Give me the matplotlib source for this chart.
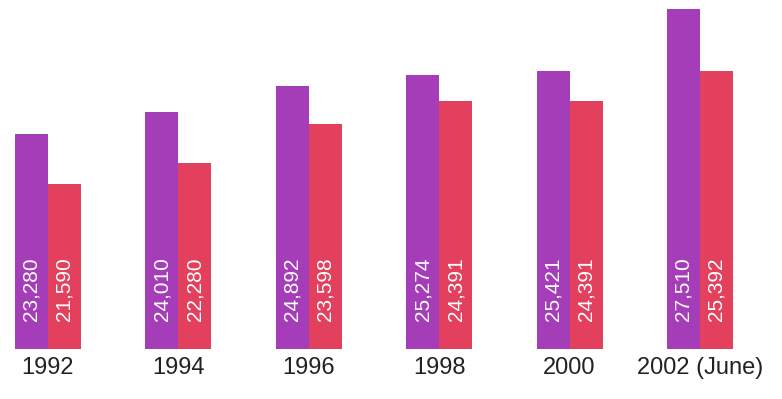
import matplotlib
matplotlib.use("Agg")
import matplotlib.pyplot as plt
import numpy as np

plt.rcParams['font.family'] = ['Liberation Sans', 'DejaVu Sans']

years = ['1992', '1994', '1996', '1998', '2000', '2002 (June)']
purple_vals = [23280, 24010, 24892, 25274, 25421, 27510]
red_vals = [21590, 22280, 23598, 24391, 24391, 25392]

purple = '#a63db8'
red = '#e2405c'

fig = plt.figure(figsize=(7.82, 3.99), dpi=100)
ax = fig.add_axes([0, 50 / 399, 1, 349 / 399])

x = np.arange(len(years))
w = 0.253
base = 16000

ax.bar(x - w / 2, np.array(purple_vals) - base, width=w, bottom=base, color=purple)
ax.bar(x + w / 2, np.array(red_vals) - base, width=w, bottom=base, color=red)

for xi, v in zip(x - w / 2, purple_vals):
    ax.annotate(f'{v:,}', (xi, base), xytext=(0, 20), textcoords='offset points',
                rotation=90, ha='center', va='bottom', color='white', fontsize=15)
for xi, v in zip(x + w / 2, red_vals):
    ax.annotate(f'{v:,}', (xi, base), xytext=(0, 20), textcoords='offset points',
                rotation=90, ha='center', va='bottom', color='white', fontsize=15)

ax.set_xticks(x)
ax.set_xticklabels(years, fontsize=17, color='#222222')
ax.tick_params(axis='x', length=0, pad=6)
ax.set_yticks([])
for s in ax.spines.values():
    s.set_visible(False)

ax.set_xlim(-0.368, 5.629)
ax.set_ylim(base, 27810)

fig.savefig('out.png', dpi=100)
